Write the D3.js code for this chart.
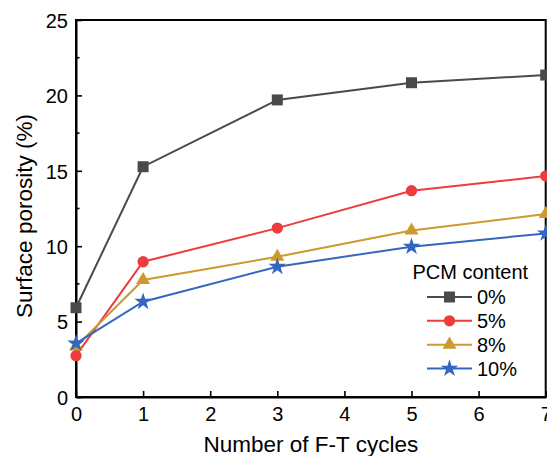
<!DOCTYPE html>
<html>
<head>
<meta charset="utf-8">
<script src="https://cdn.jsdelivr.net/npm/d3@7"></script>
<style>
  body { margin: 0; background: #fff; }
  svg { display: block; font-family: Arial, "Liberation Sans", sans-serif; }
</style>
</head>
<body>
<div id="chart"></div>
<script>
// F-T cycles on x, surface porosity (%) per PCM content
const cycles = [0, 1, 3, 5, 7];
const pcm0 = [5.92, 15.27, 19.70, 20.84, 21.35];
const pcm5 = [2.74, 8.97, 11.20, 13.68, 14.65];
const pcm8 = [3.35, 7.76, 9.30, 11.04, 12.13];
const pcm10 = [3.56, 6.32, 8.64, 9.97, 10.85];
const seriesNames = ["0%", "5%", "8%", "10%"];
const xTicks = [0, 1, 2, 3, 4, 5, 6, 7];
const yTicks = [0, 5, 10, 15, 20, 25];
const yMinorTicks = [2.5, 7.5, 12.5, 17.5, 22.5];

const width = 547, height = 456;
const margin = {top: 20, right: 1.3, bottom: 59, left: 76};

const colors = ["#4a4a4a", "#ee3b3b", "#cc9a2e", "#3566bf"];
const symbols = [
  d3.symbol(d3.symbolSquare, 121),
  d3.symbol(d3.symbolCircle, 100),
  d3.symbol(d3.symbolTriangle, 85),
  d3.symbol(d3.symbolStar, 95)
];

const series = [pcm0, pcm5, pcm8, pcm10].map((vals, i) => ({
  name: seriesNames[i],
  color: colors[i],
  symbol: symbols[i],
  points: cycles.map((c, j) => ({x: c, y: vals[j]}))
}));

const x = d3.scaleLinear().domain([0, 7]).range([margin.left, width - margin.right]);
const y = d3.scaleLinear().domain([0, 25]).range([height - margin.bottom, margin.top]);

const svg = d3.select("#chart").append("svg")
    .attr("width", width)
    .attr("height", height)
    .attr("viewBox", [0, 0, width, height]);

// frame (top and right)
svg.append("rect")
    .attr("x", x(0))
    .attr("y", y(25))
    .attr("width", x(7) - x(0))
    .attr("height", y(0) - y(25))
    .attr("fill", "none")
    .attr("stroke", "#000")
    .attr("stroke-width", 2);

// x axis, ticks inward
const xAxis = svg.append("g")
    .attr("transform", `translate(0,${y(0)})`)
    .call(d3.axisBottom(x).tickValues(xTicks).tickFormat(d3.format("d")).tickSizeInner(-6).tickSizeOuter(0).tickPadding(0));
xAxis.select(".domain").attr("stroke-width", 2);
xAxis.selectAll(".tick line").attr("stroke-width", 1.6);
xAxis.selectAll(".tick text")
    .attr("y", 24)
    .attr("dy", 0)
    .attr("font-size", 20)
    .attr("font-family", "Arial, 'Liberation Sans', sans-serif")
    .attr("fill", "#000");

// y axis, ticks inward
const yAxis = svg.append("g")
    .attr("transform", `translate(${x(0)},0)`)
    .call(d3.axisLeft(y).tickValues(yTicks).tickSizeInner(-6).tickSizeOuter(0).tickPadding(0));
yAxis.select(".domain").attr("stroke-width", 2);
yAxis.selectAll(".tick line").attr("stroke-width", 1.6);
yAxis.selectAll(".tick text")
    .attr("x", -8)
    .attr("dy", "0.36em")
    .attr("font-size", 20)
    .attr("font-family", "Arial, 'Liberation Sans', sans-serif")
    .attr("fill", "#000");

svg.append("g")
    .selectAll("line")
    .data(yMinorTicks)
    .join("line")
      .attr("x1", x(0))
      .attr("x2", x(0) + 3.5)
      .attr("y1", d => y(d))
      .attr("y2", d => y(d))
      .attr("stroke", "#000")
      .attr("stroke-width", 1.6);

// axis titles
svg.append("text")
    .attr("x", (x(0) + x(7)) / 2)
    .attr("y", 451.5)
    .attr("text-anchor", "middle")
    .attr("font-size", 22.5)
    .text("Number of F-T cycles");

svg.append("text")
    .attr("transform", `translate(32,${216}) rotate(-90)`)
    .attr("text-anchor", "middle")
    .attr("font-size", 22.5)
    .text("Surface porosity (%)");

// lines and markers
const line = d3.line().x(d => x(d.x)).y(d => y(d.y));

const g = svg.append("g")
  .selectAll("g")
  .data(series)
  .join("g");

g.append("path")
    .attr("d", d => line(d.points))
    .attr("fill", "none")
    .attr("stroke", d => d.color)
    .attr("stroke-width", 2);

g.each(function(s) {
  d3.select(this).selectAll("path.mark")
    .data(s.points)
    .join("path")
      .attr("class", "mark")
      .attr("transform", d => `translate(${x(d.x)},${y(d.y)})`)
      .attr("d", s.symbol())
      .attr("fill", s.color);
});

// legend
const legend = svg.append("g");
legend.append("text")
    .attr("x", 412.5)
    .attr("y", 278.5)
    .attr("font-size", 20)
    .text("PCM content");

const rowY = d3.scaleLinear().domain([0, 3]).range([297, 368.5]);
const item = legend.selectAll("g.item")
  .data(series)
  .join("g")
    .attr("class", "item")
    .attr("transform", (d, i) => `translate(0,${rowY(i)})`);

item.append("line")
    .attr("x1", 427)
    .attr("x2", 472)
    .attr("stroke", d => d.color)
    .attr("stroke-width", 2);

item.append("path")
    .attr("transform", "translate(449.5,0)")
    .attr("d", d => d.symbol())
    .attr("fill", d => d.color);

item.append("text")
    .attr("x", 477)
    .attr("dy", "0.36em")
    .attr("font-size", 20)
    .text(d => d.name);
</script>
</body>
</html>
